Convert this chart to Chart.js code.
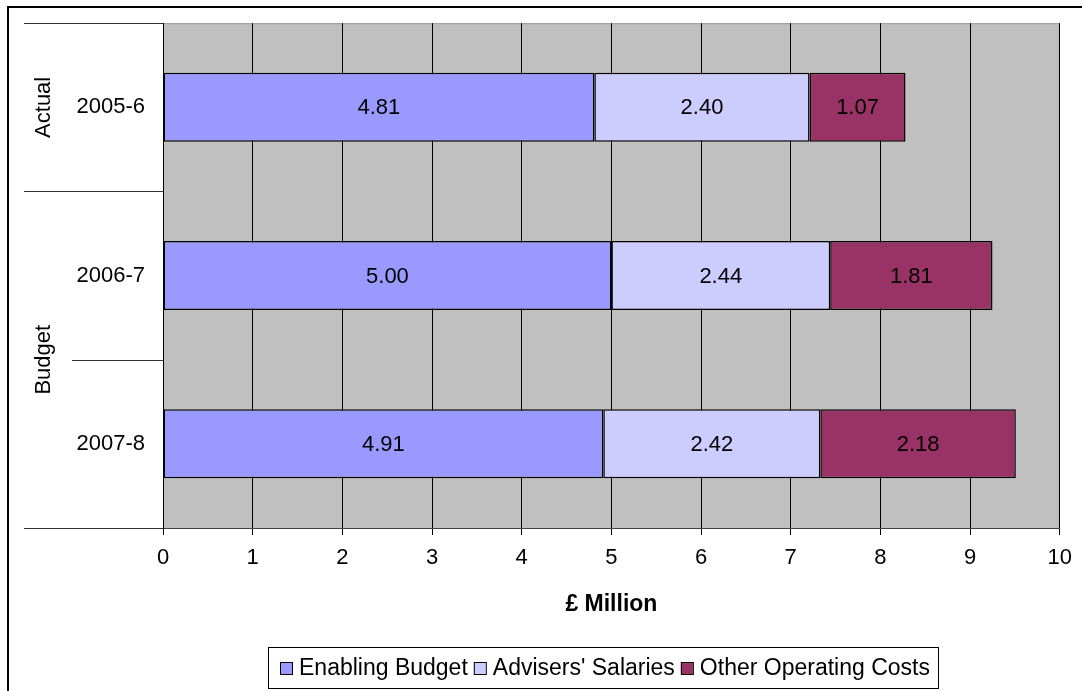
<!DOCTYPE html>
<html>
<head>
<meta charset="utf-8">
<script src="https://cdn.jsdelivr.net/npm/chart.js@4"></script>
<style>
  html, body { margin: 0; padding: 0; background: #fff; }
  #wrap { width: 1082px; height: 691px; position: relative; }
</style>
</head>
<body>
<div id="wrap"><canvas id="js--chart"></canvas></div>
<script>
const years = ["2005-6", "2006-7", "2007-8"];
const groups = [
    { label: "Actual", from: 0, to: 0 },
    { label: "Budget", from: 1, to: 2 }
];
const enabling = [4.81, 5.00, 4.91];
const advisers = [2.40, 2.44, 2.42];
const otherCosts = [1.07, 1.81, 2.18];
const xTicks = [0, 1, 2, 3, 4, 5, 6, 7, 8, 9, 10];

const FONT = "'Liberation Sans', Arial, sans-serif";

// grey plot area behind the bars
const plotBackground = {
    id: 'plotBackground',
    beforeDraw(chart) {
        const { ctx, chartArea: a } = chart;
        ctx.save();
        ctx.fillStyle = '#C0C0C0';
        ctx.fillRect(a.left, a.top, a.right - a.left, a.bottom - a.top);
        ctx.strokeStyle = '#9a9a9a';
        ctx.lineWidth = 1;
        ctx.strokeRect(a.left + 0.5, a.top + 0.5, a.right - a.left - 1, a.bottom - a.top);
        ctx.restore();
    }
};

// numbers inside each segment
const segmentLabels = {
    id: 'segmentLabels',
    afterDatasetsDraw(chart) {
        const ctx = chart.ctx;
        ctx.save();
        ctx.font = '22px ' + FONT;
        ctx.fillStyle = '#000';
        ctx.textAlign = 'center';
        ctx.textBaseline = 'middle';
        chart.data.datasets.forEach((ds, i) => {
            chart.getDatasetMeta(i).data.forEach((bar, j) => {
                const p = bar.getCenterPoint();
                ctx.fillText(ds.data[j].toFixed(2), p.x, p.y + 1);
            });
        });
        ctx.restore();
    }
};

// Actual / Budget grouping on the left, separator lines, legend and frame
const extras = {
    id: 'extras',
    afterDraw(chart) {
        const { ctx, chartArea: a } = chart;
        const y = chart.scales.y;
        const band = y.getPixelForValue(1) - y.getPixelForValue(0);
        ctx.save();

        // separator lines between categories
        ctx.strokeStyle = '#333';
        ctx.lineWidth = 1;
        for (let i = 0; i <= years.length; i++) {
            const py = Math.round(y.getPixelForValue(i) - band / 2) + 0.5;
            const isGroupEdge = groups.some(g => g.from === i || g.to + 1 === i);
            ctx.beginPath();
            ctx.moveTo(isGroupEdge ? 24 : 72, py);
            ctx.lineTo(a.left, py);
            ctx.stroke();
        }

        // group names
        ctx.fillStyle = '#000';
        ctx.font = '22px ' + FONT;
        ctx.textAlign = 'center';
        ctx.textBaseline = 'middle';
        groups.forEach(g => {
            const cy = (y.getPixelForValue(g.from) + y.getPixelForValue(g.to)) / 2;
            ctx.save();
            ctx.translate(44, cy);
            ctx.rotate(-Math.PI / 2);
            ctx.fillText(g.label, 0, 0);
            ctx.restore();
        });

        // legend
        ctx.font = '23px ' + FONT;
        ctx.textAlign = 'left';
        let x = 280;
        const ly = 668;
        chart.data.datasets.forEach(ds => {
            ctx.fillStyle = ds.backgroundColor;
            ctx.fillRect(x, ly - 6, 12, 12);
            ctx.strokeStyle = '#000';
            ctx.lineWidth = 1;
            ctx.strokeRect(x + 0.5, ly - 5.5, 12, 12);
            x += 19;
            ctx.fillStyle = '#000';
            ctx.fillText(ds.label, x, ly + 1);
            x += ctx.measureText(ds.label).width + 6;
        });
        ctx.strokeRect(268.5, 647.5, x + 2 - 268, 41);

        // outer frame
        ctx.lineWidth = 2;
        ctx.beginPath();
        ctx.moveTo(8, 691);
        ctx.lineTo(8, 7);
        ctx.lineTo(1082, 7);
        ctx.stroke();

        ctx.restore();
    }
};

const data = {
    labels: years,
    datasets: [
        { label: "Enabling Budget", data: enabling, backgroundColor: '#9999FF' },
        { label: "Advisers' Salaries", data: advisers, backgroundColor: '#CCCCFF' },
        { label: "Other Operating Costs", data: otherCosts, backgroundColor: '#993366' }
    ].map(ds => Object.assign(ds, {
        borderColor: '#000',
        borderWidth: 1.5,
        borderSkipped: false,
        categoryPercentage: 1,
        barPercentage: 0.41
    }))
};

const config = {
    type: 'bar',
    data: data,
    options: {
        indexAxis: 'y',
        responsive: true,
        maintainAspectRatio: false,
        animation: false,
        layout: { padding: { left: 0, top: 20, right: 20, bottom: 53 } },
        plugins: {
            legend: { display: false },
            tooltip: { enabled: false }
        },
        scales: {
            x: {
                stacked: true,
                min: 0,
                max: 10,
                afterBuildTicks: (scale) => { scale.ticks = xTicks.map(v => ({ value: v })); },
                afterFit: (scale) => { scale.height = 110; },
                grid: { color: '#000', lineWidth: 1, drawTicks: true, tickLength: 7, tickColor: '#000' },
                border: { display: true, color: '#444', width: 1 },
                ticks: { color: '#000', padding: 10, font: { family: FONT, size: 22 } },
                title: {
                    display: true,
                    text: '£ Million',
                    color: '#000',
                    padding: { top: 0, bottom: 20 },
                    font: { family: FONT, size: 23, weight: 'bold' }
                }
            },
            y: {
                stacked: true,
                afterFit: (scale) => { scale.width = 163; },
                grid: { display: false },
                border: { display: true, color: '#000', width: 1 },
                ticks: { color: '#000', padding: 10, font: { family: FONT, size: 22 } }
            }
        }
    },
    plugins: [plotBackground, segmentLabels, extras]
};

new Chart(document.getElementById("js--chart"), config);
</script>
</body>
</html>
